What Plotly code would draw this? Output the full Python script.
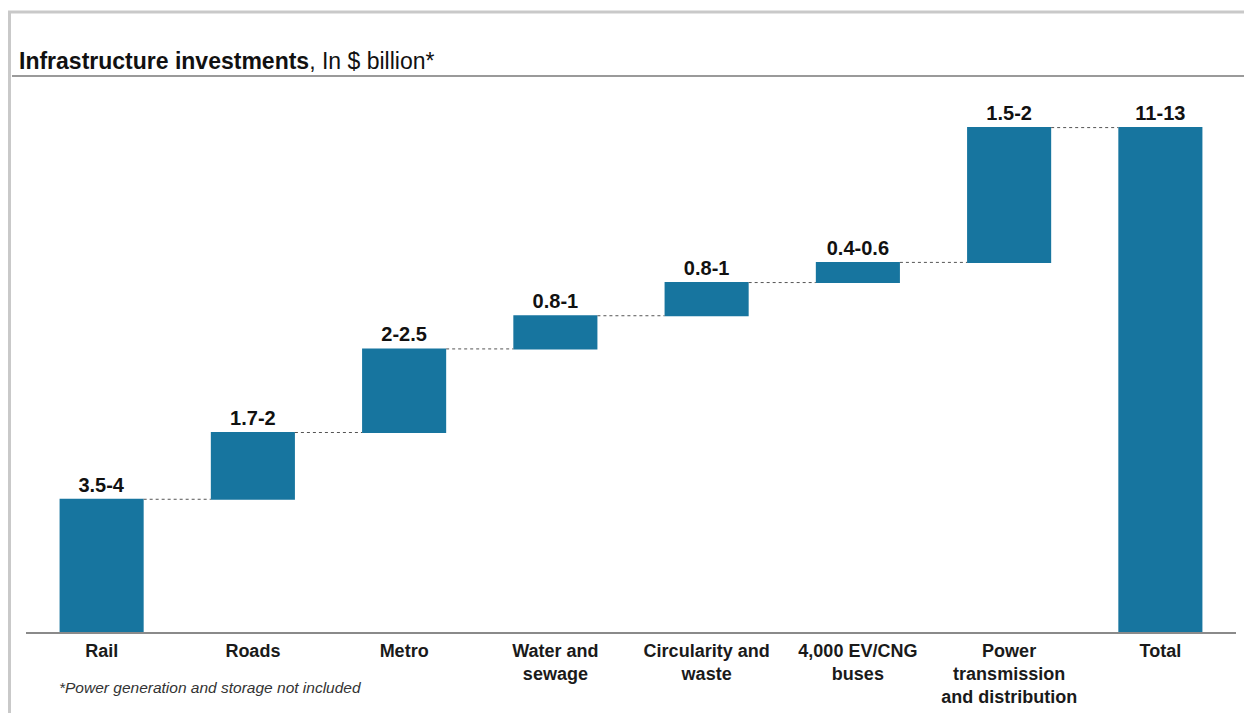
import plotly.graph_objects as go

# ---- data ----
categories = ["Rail", "Roads", "Metro", "Water and<br>sewage", "Circularity and<br>waste",
              "4,000 EV/CNG<br>buses", "Power<br>transmission<br>and distribution", "Total"]
values = [3.16, 1.59, 1.99, 0.79, 0.79, 0.48, 3.21, 0]
measures = ["relative"] * 7 + ["total"]
value_labels = ["3.5-4", "1.7-2", "2-2.5", "0.8-1", "0.8-1", "0.4-0.6", "1.5-2", "11-13"]

# ---- layout geometry (pixels) ----
# the page adds an 8px body margin, so figure coords = screen coords - 8
OFF = 8
W, H = 1252, 713
ML = 26 - OFF
MT = 100 - OFF
BASE = 632 - OFF
MB = H - BASE
MR = W - (1236 - OFF)
PX_PER_UNIT = 42.0
plot_w = W - ML - MR
plot_h = H - MT - MB
ymax = plot_h / PX_PER_UNIT

def px_x(px):
    return (px - OFF - ML) / plot_w

def px_y(py):
    return (BASE - (py - OFF)) / plot_h

BAR = "#17759f"
FONT = "Liberation Sans, Arial, sans-serif"

fig = go.Figure(go.Waterfall(
    x=categories,
    y=values,
    measure=measures,
    text=value_labels,
    textposition="outside",
    textfont=dict(family=FONT, size=20, color="#111111"),
    texttemplate="<b>%{text}</b>",
    increasing=dict(marker=dict(color=BAR)),
    decreasing=dict(marker=dict(color=BAR)),
    totals=dict(marker=dict(color=BAR)),
    connector=dict(mode="between", line=dict(color="#555555", width=1, dash="dot")),
    cliponaxis=False,
    hoverinfo="skip",
))

fig.update_layout(
    width=W, height=H,
    margin=dict(l=ML, r=MR, t=MT, b=MB, pad=0, autoexpand=False),
    paper_bgcolor="white",
    plot_bgcolor="white",
    showlegend=False,
    waterfallgap=0.444,
    font=dict(family=FONT, color="#222222"),
    xaxis=dict(
        type="category",
        automargin=False,
        showline=True, linecolor="#8a8a8a", linewidth=2,
        showgrid=False, zeroline=False,
        ticks="", tickfont=dict(family=FONT, size=18, color="#1a1a1a"),
        ticklabelstandoff=1,
        range=[-0.5, 7.5],
    ),
    yaxis=dict(
        automargin=False,
        range=[0, ymax], visible=False, showgrid=False, zeroline=False,
    ),
)

# bold category labels
fig.update_xaxes(
    tickvals=categories,
    ticktext=["<b>" + c + "</b>" for c in categories],
)

# outer frame
fig.add_shape(type="rect", xref="paper", yref="paper",
              x0=px_x(9.5), x1=px_x(1248), y0=px_y(760), y1=px_y(12),
              line=dict(color="#c9c9c9", width=3), fillcolor="rgba(0,0,0,0)", layer="below")
# title separator
fig.add_shape(type="line", xref="paper", yref="paper",
              x0=px_x(12), x1=px_x(1248), y0=px_y(76), y1=px_y(76),
              line=dict(color="#9a9a9a", width=2))

# title
fig.add_annotation(xref="paper", yref="paper", x=px_x(17), y=px_y(61),
                   xanchor="left", yanchor="middle", showarrow=False,
                   text="<b>Infrastructure investments</b>, In $ billion*",
                   font=dict(family=FONT, size=23, color="#111111"))
# footnote
fig.add_annotation(xref="paper", yref="paper", x=px_x(57), y=px_y(688),
                   xanchor="left", yanchor="middle", showarrow=False,
                   text="<i>*Power generation and storage not included</i>",
                   font=dict(family=FONT, size=15.5, color="#333333"))

fig.write_html("out.html")
